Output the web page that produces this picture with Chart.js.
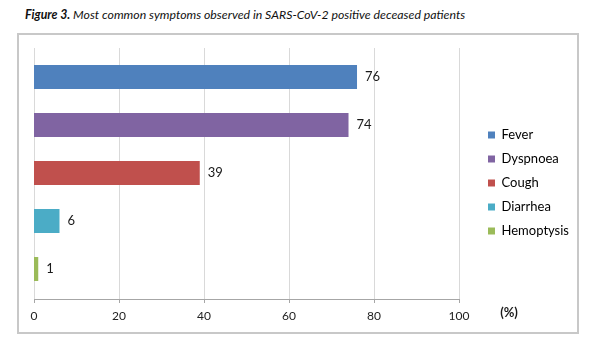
<!DOCTYPE html>
<html>
<head>
<meta charset="utf-8">
<script src="https://cdn.jsdelivr.net/npm/chart.js@4.4.0/dist/chart.umd.min.js"></script>
<style>
  html, body { margin: 0; padding: 0; background: #fff; }
  #wrap { position: relative; width: 598px; height: 348px; }
  #title {
    position: absolute; left: 25px; top: 7px;
    font-family: Lato, "Open Sans", sans-serif; font-style: italic;
    font-size: 12.3px; color: #111; white-space: nowrap;
  }
  #frame {
    position: absolute; left: 17px; top: 33px; width: 558px; height: 297px;
    border: 2px solid #c8c8c8;
  }
  #chartcanvas { position: absolute; left: 0; top: 0; }
</style>
</head>
<body>
<div id="wrap">
  <div id="title"><b>Figure 3.</b> Most common symptoms observed in SARS-CoV-2 positive deceased patients</div>
  <div id="frame"></div>
  <canvas id="chartcanvas" width="598" height="348"></canvas>
</div>
<script>
var symptoms = ["Fever", "Dyspnoea", "Cough", "Diarrhea", "Hemoptysis"];
var percents = [76, 74, 39, 6, 1];
var barColors = ["#4f81bd", "#8064a2", "#c0504d", "#4bacc6", "#9bbb59"];
var xTicks = [0, 20, 40, 60, 80, 100];

var font = "Lato, 'Open Sans', sans-serif";

// grid, axis line and tick marks drawn a little beyond the plot area, like the original
var gridPlugin = {
    id: "gridPlugin",
    afterLayout: function (chart) {
        // leave a gap between the plot and the legend, centre it a bit lower
        var lg = chart.legend, area = chart.chartArea;
        var dx = area.right + 18 - lg.left;
        lg.left += dx;
        lg.right += dx;
        lg.top = area.top;
        lg.bottom = area.bottom + 20;
        lg.height = lg.bottom - lg.top;
    },
    beforeDatasetsDraw: function (chart) {
        var ctx = chart.ctx, area = chart.chartArea, xs = chart.scales.x;
        var top = area.top - 5, axisY = area.bottom + 6;
        ctx.save();
        ctx.lineWidth = 1;
        xTicks.forEach(function (v) {
            var x = Math.round(xs.getPixelForValue(v)) + 0.5;
            ctx.strokeStyle = "#d9d9d9";
            ctx.beginPath(); ctx.moveTo(x, top); ctx.lineTo(x, axisY); ctx.stroke();
            ctx.strokeStyle = "#a6a6a6";
            ctx.beginPath(); ctx.moveTo(x, axisY); ctx.lineTo(x, axisY + 4); ctx.stroke();
        });
        ctx.strokeStyle = "#a6a6a6";
        ctx.beginPath();
        ctx.moveTo(xs.getPixelForValue(0), axisY + 0.5);
        ctx.lineTo(xs.getPixelForValue(100) + 1, axisY + 0.5);
        ctx.stroke();
        ctx.restore();
    },
    afterDatasetsDraw: function (chart) {
        var ctx = chart.ctx, xs = chart.scales.x;
        var meta = chart.getDatasetMeta(0);
        ctx.save();
        ctx.fillStyle = "#1a1a1a";
        ctx.font = "13px " + font;
        ctx.textBaseline = "middle";
        meta.data.forEach(function (bar, i) {
            ctx.fillText(String(percents[i]), bar.x + 8, bar.y);
        });
        ctx.font = "bold 13px " + font;
        ctx.textAlign = "center";
        ctx.fillText("(%)", xs.getPixelForValue(100) + 50, chart.chartArea.bottom + 20);
        ctx.restore();
    }
};

new Chart(document.getElementById("chartcanvas"), {
    type: "bar",
    data: {
        labels: symptoms,
        datasets: [{
            label: "Symptoms",
            data: percents,
            backgroundColor: barColors,
            borderWidth: 0,
            categoryPercentage: 1,
            barPercentage: 0.5
        }]
    },
    options: {
        indexAxis: "y",
        responsive: false,
        animation: false,
        layout: { padding: { left: 34, top: 53, right: 37, bottom: 0 } },
        scales: {
            x: {
                min: 0, max: 100,
                afterBuildTicks: function (scale) {
                    scale.ticks = xTicks.map(function (v) { return { value: v }; });
                },
                grid: { display: false, drawTicks: false },
                border: { display: false },
                ticks: {
                    padding: 16,
                    color: "#222",
                    font: { family: font, size: 12 }
                },
                afterFit: function (scale) { scale.height = 55; }
            },
            y: { display: false }
        },
        plugins: {
            tooltip: { enabled: false },
            legend: {
                position: "right",
                labels: {
                    boxWidth: 7,
                    boxHeight: 7,
                    padding: 11,
                    color: "#222",
                    font: { family: font, size: 13 },
                    generateLabels: function (chart) {
                        return symptoms.map(function (s, i) {
                            return { text: s, fillStyle: barColors[i], strokeStyle: barColors[i], lineWidth: 0, index: i };
                        });
                    }
                }
            }
        }
    },
    plugins: [gridPlugin]
});
</script>
</body>
</html>
